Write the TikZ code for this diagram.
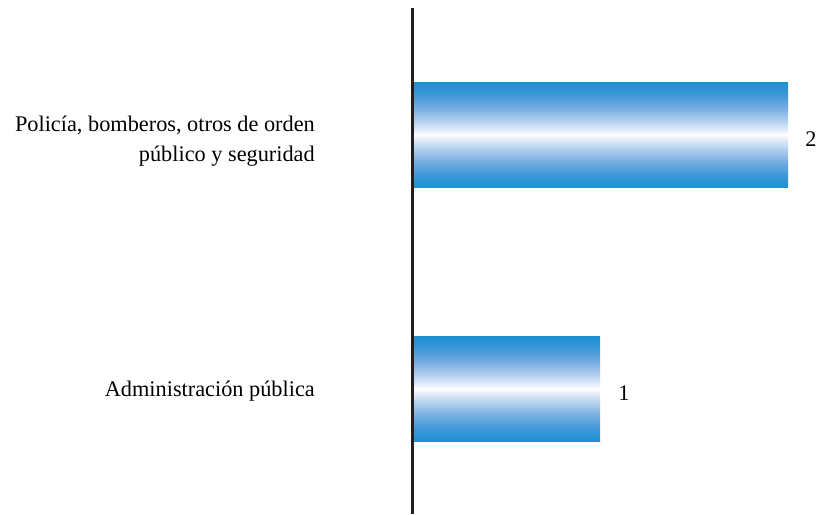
\documentclass[tikz,border=0pt]{standalone}
\usepackage{fontspec}
\setmainfont{Liberation Serif}
\definecolor{barblue}{RGB}{28,144,210}
\definecolor{barA}{RGB}{62,152,215}
\definecolor{barB}{RGB}{115,172,225}
\definecolor{barC}{RGB}{175,205,237}
\definecolor{barD}{RGB}{230,238,250}
\pgfdeclareverticalshading{barshade}{100bp}{
  color(0bp)=(barblue); color(25bp)=(barblue); color(31bp)=(barA);
  color(37bp)=(barB); color(43bp)=(barC); color(48bp)=(barD);
  color(50bp)=(white); color(52bp)=(barD); color(57bp)=(barC);
  color(63bp)=(barB); color(69bp)=(barA); color(75bp)=(barblue); color(100bp)=(barblue)}
\tikzset{
  bar/.style={draw=none, shading=barshade, minimum height=105.5pt, inner sep=0pt, anchor=west},
  catlabel/.style={font=\fontsize{22.3}{30}\selectfont, align=right, anchor=east, inner sep=0pt},
  vallabel/.style={font=\fontsize{22.3}{30}\selectfont, inner sep=0pt}
}
\begin{document}
\begin{tikzpicture}[x=1pt,y=-1pt]
\useasboundingbox (0,0) rectangle (818,514);
\node[bar, minimum width=375pt] (b1) at (413,134.8) {};
\node[bar, minimum width=187pt] (b2) at (413,388.8) {};
\coordinate (atop) at (412.3,8);
\coordinate (abot) at (412.3,514);
\draw[line width=2.6pt, color={rgb,255:red,35;green,31;blue,32}] (atop) -- (abot);
\node[catlabel] (l1) at (315,141) {Policía, bomberos, otros de orden\\público y seguridad};
\node[catlabel] (l2) at (315,391) {Administración pública};
\node[vallabel] (v1) at (811,139) {2};
\node[vallabel] (v2) at (624,393) {1};
\end{tikzpicture}
\end{document}
